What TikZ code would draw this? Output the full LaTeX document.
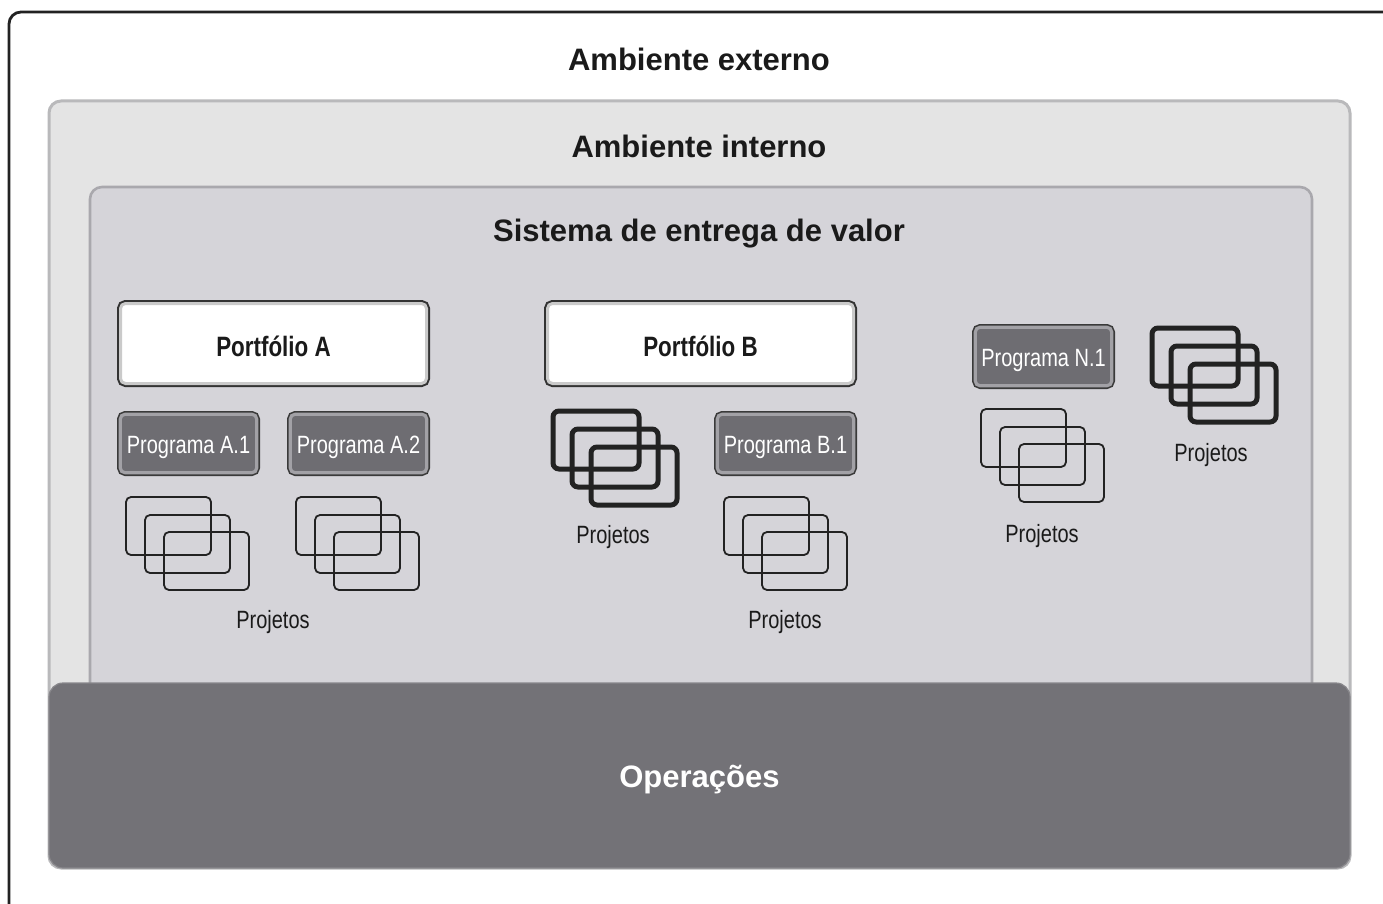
\documentclass[tikz,border=0pt]{standalone}
\usepackage{fontspec}
\setmainfont{Liberation Sans}
\newfontfamily\condfont[FakeStretch=0.8]{Liberation Sans}
\definecolor{framec}{HTML}{222222}
\definecolor{intfill}{HTML}{E4E4E4}
\definecolor{intline}{HTML}{B9B9BB}
\definecolor{sysfill}{HTML}{D5D4D9}
\definecolor{sysline}{HTML}{A9A8AD}
\definecolor{opsfill}{HTML}{737277}
\definecolor{portline}{HTML}{333333}
\definecolor{portband}{HTML}{CACACA}
\definecolor{progfill}{HTML}{6E6D72}
\definecolor{progline}{HTML}{3A3A3A}
\definecolor{progband}{HTML}{A2A1A6}
\definecolor{txt}{HTML}{1A1A1A}
\definecolor{iconc}{HTML}{222222}
\begin{document}
\begin{tikzpicture}[x=0.5pt,y=-0.5pt,
  outerframe/.style={draw=framec, line width=1.4pt, rounded corners=6pt},
  envbox/.style={draw=intline, fill=intfill, line width=1.5pt, rounded corners=6pt},
  sysbox/.style={draw=sysline, fill=sysfill, line width=1.3pt, rounded corners=6pt},
  opsbox/.style={fill=opsfill, draw=opsfill!85!white, line width=0.6pt, rounded corners=7pt,
     text=white, font=\bfseries\fontsize{15.5}{18}\selectfont, text height=11.5pt, text depth=0pt},
  title/.style={text=txt, font=\bfseries\fontsize{15.5}{18}\selectfont},
  portbox/.style={fill=white, draw=portband, line width=1.5pt, rounded corners=2.5pt,
     preaction={draw=portline, line width=3.5pt},
     minimum width=153pt, minimum height=40pt, inner sep=0pt,
     text height=12.5pt, text depth=0pt,
     text=txt, font=\condfont\bfseries\fontsize{14}{16}\selectfont},
  progbox/.style={fill=progfill, draw=progband, line width=1.6pt, rounded corners=2.5pt,
     preaction={draw=progline, line width=3.2pt},
     minimum width=68.3pt, minimum height=29.3pt, inner sep=0pt,
     text height=9.5pt, text depth=0pt,
     text=white, font=\condfont\fontsize{12.5}{14}\selectfont},
  projlabel/.style={text=txt, font=\condfont\fontsize{12.5}{14}\selectfont},
  thinrect/.style={draw=iconc, line width=0.9pt, rounded corners=2.5pt},
  thickrect/.style={draw=iconc, line width=2.5pt, rounded corners=3pt},
  thinstack/.pic={\foreach \dx/\dy in {0/0,19/18,38/35} \draw[thinrect] (\dx,\dy) rectangle ++(85,58);},
  thickstack/.pic={\foreach \dx/\dy in {0/0,19/18,38/36} \draw[thickrect] (\dx,\dy) rectangle ++(86,58);}
]
\useasboundingbox (0,0) rectangle (1383,904);
\clip (0,0) rectangle (1383,904);
\fill[white] (0,0) rectangle (1383,904);
\draw[outerframe] (9,12) rectangle (1430,950);

\node[envbox, minimum width=650.5pt, minimum height=383.5pt] (interno) at (699.5,484.5) {};
\node[sysbox, minimum width=611pt, minimum height=256.5pt] (sistema) at (701,443.5) {};
\node[opsbox, minimum width=650.5pt, minimum height=92.5pt] (ops) at (699.5,775.5) {Operações};

\node[title] (externo) at (699,59) {Ambiente externo};
\node[title] (internot) at (699,146) {Ambiente interno};
\node[title] (sistt) at (699,234) {Sistema de entrega de valor};

\node[portbox] (pa) at (273.5,343.5) {Portfólio A};
\node[portbox] (pb) at (700.5,343.5) {Portfólio B};

\node[progbox] (pa1) at (188.5,443.5) {Programa A.1};
\node[progbox] (pa2) at (358.5,443.5) {Programa A.2};
\node[progbox] (pb1) at (785.5,443.5) {Programa B.1};
\node[progbox] (pn1) at (1043.5,356.5) {Programa N.1};

\pic (sa1) at (126,497) {thinstack};
\pic (sa2) at (296,497) {thinstack};
\pic (sb1) at (724,497) {thinstack};
\pic (sn1) at (981,409) {thinstack};
\pic (tb) at (553,411) {thickstack};
\pic (tn) at (1152,328) {thickstack};

\node[projlabel] (la) at (273,622) {Projetos};
\node[projlabel] (lb) at (613,537) {Projetos};
\node[projlabel] (lb1) at (785,622) {Projetos};
\node[projlabel] (ln1) at (1042,536) {Projetos};
\node[projlabel] (ln) at (1211,455) {Projetos};
\end{tikzpicture}
\end{document}
